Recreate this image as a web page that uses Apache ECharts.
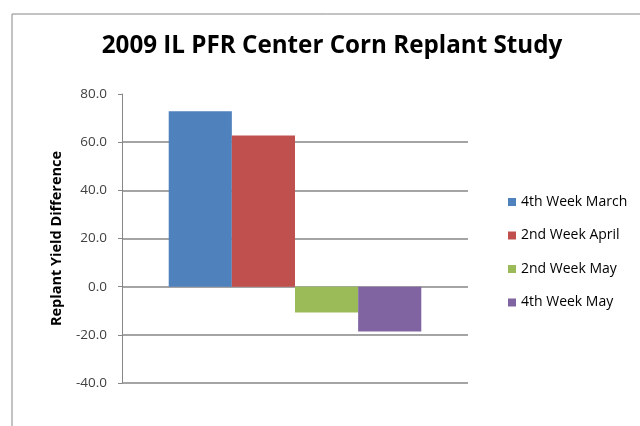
<!DOCTYPE html>
<html><head><meta charset="utf-8">
<script src="https://cdn.jsdelivr.net/npm/echarts@6/dist/echarts.min.js"></script>
<style>html,body{margin:0;padding:0;background:#fff}#c{width:640px;height:426px}</style>
</head><body><div id="c"></div>
<script>
const categories = [''];
const seriesNames = ['4th Week March', '2nd Week April', '2nd Week May', '4th Week May'];
const seriesValues = [72.8, 62.8, -10.7, -18.6];
const seriesColors = ['#4F81BD', '#C0504D', '#9BBB59', '#8064A2'];
const yTicks = [-40, -20, 0, 20, 40, 60, 80];

const chart = echarts.init(document.getElementById('c'));
chart.setOption({
  animation: false,
  backgroundColor: '#fff',
  graphic: [{
    type: 'rect', left: 9.5, top: 11.5, shape: {width: 700, height: 500},
    style: {fill: 'none', stroke: '#868686', lineWidth: 1}, z: -1
  }],
  title: {
    text: '2009 IL PFR Center Corn Replant Study',
    left: 327, top: 29, textAlign: 'center',
    textStyle: {fontFamily: 'Open Sans', fontWeight: 'bold', fontSize: 24.2, color: '#000'}
  },
  legend: {
    orient: 'vertical', left: 503, top: 190, itemWidth: 8, itemHeight: 8, itemGap: 19.5,
    icon: 'rect',
    textStyle: {fontFamily: 'Open Sans', fontSize: 14, color: '#000'},
    data: seriesNames
  },
  grid: {left: 122, right: 172, top: 94, bottom: 43},
  xAxis: {
    type: 'category', data: categories,
    axisLine: {show: false}, axisTick: {show: false}, axisLabel: {show: false}
  },
  yAxis: {
    type: 'value', min: yTicks[0], max: yTicks[yTicks.length - 1], interval: 20,
    name: 'Replant Yield Difference', nameLocation: 'middle', nameGap: 58,
    nameTextStyle: {fontFamily: 'Open Sans', fontWeight: 'bold', fontSize: 14.5, color: '#000'},
    axisLine: {show: true, lineStyle: {color: '#868686'}},
    axisTick: {show: true, length: 4, inside: false, lineStyle: {color: '#868686'}},
    axisLabel: {formatter: v => v.toFixed(1), fontFamily: 'Open Sans', fontSize: 13.5, color: '#404040', margin: 15},
    splitLine: {show: true, lineStyle: {color: ['#868686','#868686','#868686','#868686','#868686','#868686','rgba(0,0,0,0)'], width: 1.5}}
  },
  series: seriesNames.map((n, i) => ({
    name: n, type: 'bar', data: [seriesValues[i]],
    barGap: '0%', barCategoryGap: '27%',
    itemStyle: {color: seriesColors[i]}
  }))
});
</script></body></html>
